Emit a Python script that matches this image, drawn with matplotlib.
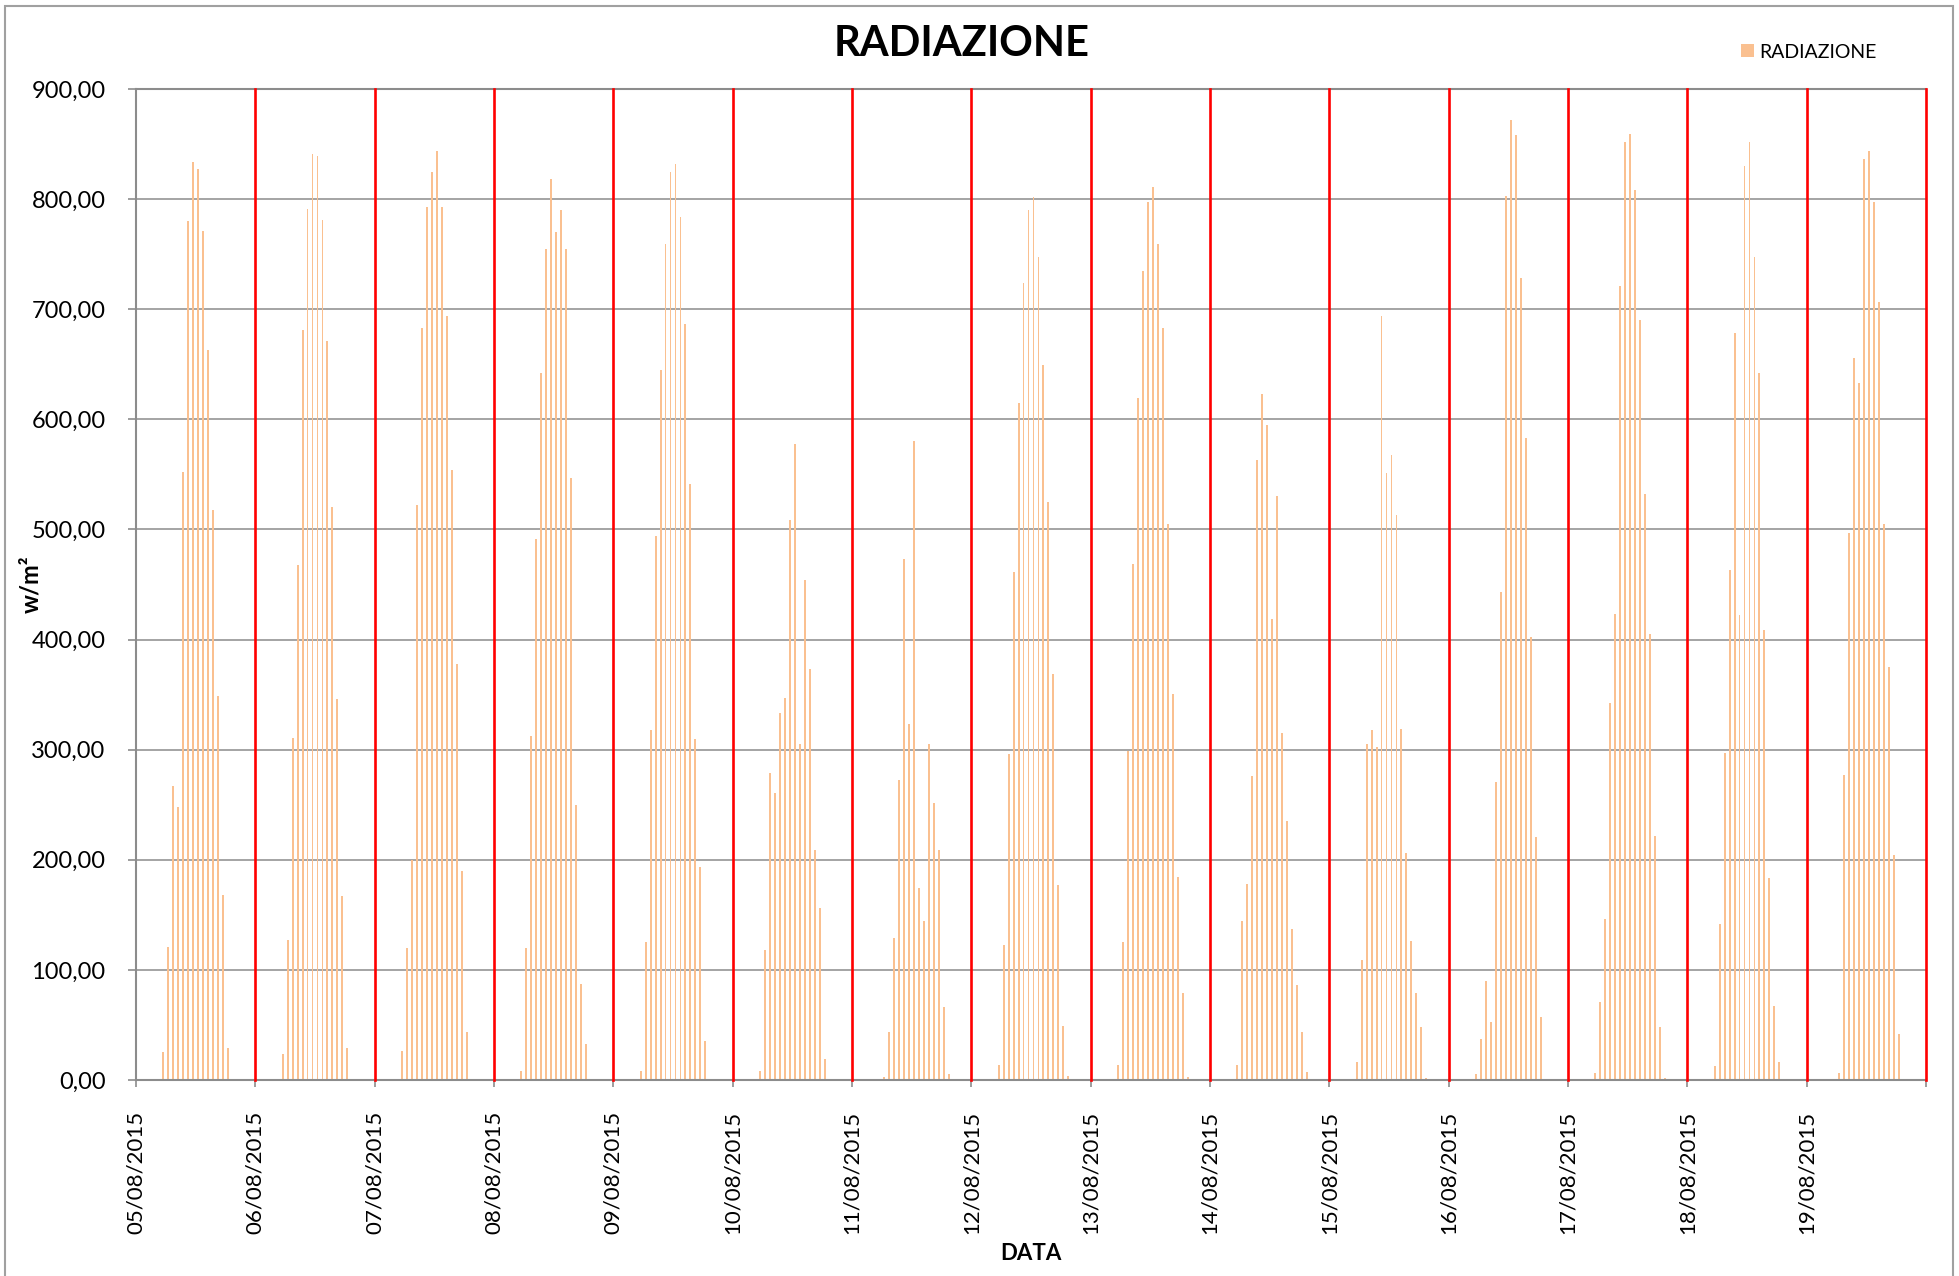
import matplotlib
matplotlib.use("Agg")
import matplotlib.pyplot as plt
import numpy as np
from matplotlib.patches import Rectangle

plt.rcParams['font.family'] = ['Lato', 'DejaVu Sans']

dates = ["05/08/2015", "06/08/2015", "07/08/2015", "08/08/2015", "09/08/2015",
         "10/08/2015", "11/08/2015", "12/08/2015", "13/08/2015", "14/08/2015",
         "15/08/2015", "16/08/2015", "17/08/2015", "18/08/2015", "19/08/2015"]

# hourly radiation (W/m2), hours 00..23 for each day
rad_05 = [0, 0, 0, 0, 0, 25, 121, 267, 248, 552, 780, 834, 827, 771, 663, 518, 349, 168, 29, 0, 0, 0, 0, 0]
rad_06 = [0, 0, 0, 0, 0, 24, 127, 311, 468, 681, 791, 841, 839, 781, 671, 520, 346, 167, 29, 0, 0, 0, 0, 0]
rad_07 = [0, 0, 0, 0, 0, 26, 120, 200, 522, 683, 793, 825, 844, 793, 694, 554, 378, 190, 44, 1, 0, 0, 0, 0]
rad_08 = [0, 0, 0, 0, 0, 8, 120, 312, 491, 642, 755, 818, 770, 790, 755, 547, 250, 87, 33, 0, 0, 0, 0, 0]
rad_09 = [0, 0, 0, 0, 0, 8, 125, 318, 494, 645, 759, 825, 832, 784, 687, 541, 310, 193, 35, 0, 0, 0, 0, 0]
rad_10 = [0, 0, 0, 0, 0, 8, 118, 279, 261, 333, 347, 509, 578, 305, 454, 373, 209, 156, 19, 0, 0, 0, 0, 0]
rad_11 = [0, 0, 0, 0, 0, 0, 3, 44, 129, 272, 473, 323, 580, 174, 144, 305, 252, 209, 66, 5, 0, 0, 0, 0]
rad_12 = [0, 0, 0, 0, 0, 14, 123, 296, 461, 615, 724, 790, 802, 747, 649, 525, 369, 177, 49, 4, 0, 0, 0, 0]
rad_13 = [0, 0, 0, 0, 0, 14, 125, 299, 469, 619, 735, 797, 811, 759, 683, 505, 351, 184, 79, 3, 0, 0, 0, 0]
rad_14 = [0, 0, 0, 0, 0, 14, 144, 178, 276, 563, 623, 595, 419, 530, 315, 235, 137, 86, 44, 7, 0, 0, 0, 0]
rad_15 = [0, 0, 0, 0, 0, 16, 109, 305, 318, 302, 694, 551, 568, 513, 319, 206, 126, 79, 48, 2, 0, 0, 0, 0]
rad_16 = [0, 0, 0, 0, 0, 5, 37, 90, 53, 271, 443, 803, 872, 858, 728, 583, 402, 221, 57, 0.5, 0, 0, 0, 0]
rad_17 = [0, 0, 0, 0, 0, 6, 71, 146, 342, 423, 721, 852, 859, 808, 690, 532, 405, 222, 48, 2, 0, 0, 0, 0]
rad_18 = [0, 0, 0, 0, 0, 13, 142, 297, 463, 678, 422, 830, 852, 747, 642, 409, 183, 67, 16, 0, 0, 0, 0, 0]
rad_19 = [0, 0, 0, 0, 0, 0, 6, 277, 497, 656, 633, 836, 844, 797, 707, 505, 375, 204, 42, 0, 0, 0, 0, 0]

values = np.concatenate([rad_05, rad_06, rad_07, rad_08, rad_09, rad_10, rad_11, rad_12,
                         rad_13, rad_14, rad_15, rad_16, rad_17, rad_18, rad_19])
n_days = len(dates)
hours_per_day = 24

W, H = 1959, 1276
fig = plt.figure(figsize=(W / 100, H / 100), dpi=100)
ax = fig.add_axes([136 / W, 1 - 1080 / H, (1926 - 136) / W, (1080 - 89) / H])

bar_color = '#FAC090'
x = np.arange(len(values)) + 0.5
ax.bar(x, values, width=0.38, color=bar_color, linewidth=0, label='RADIAZIONE', zorder=2)

ax.set_xlim(0, n_days * hours_per_day)
ax.set_ylim(0, 900)

grid_c = '#8C8C8C'
ax.set_yticks(np.arange(0, 901, 100))
ax.set_yticklabels([f"{v:.2f}".replace('.', ',') for v in np.arange(0, 901, 100)], fontsize=17)
ax.yaxis.grid(True, color=grid_c, linewidth=1.1, zorder=1)
ax.set_axisbelow(True)

day_ticks = np.arange(0, n_days * hours_per_day + 1, hours_per_day)
ax.set_xticks(day_ticks)
ax.set_xticklabels(dates + [""], rotation=90, fontsize=16)

for t in day_ticks[1:]:
    ax.axvline(t, color='#FF0000', linewidth=1.9, zorder=3, clip_on=False)

for side in ['left', 'bottom', 'top']:
    ax.spines[side].set_color(grid_c)
    ax.spines[side].set_linewidth(1.5)
ax.spines['right'].set_visible(False)

ax.tick_params(axis='y', length=6, width=1.2, color=grid_c, pad=16)
ax.tick_params(axis='x', length=5, width=1.2, color=grid_c, pad=17)

fig.text(962 / W, 1 - 44 / H, 'RADIAZIONE', fontsize=30, fontweight='bold', ha='center', va='center')
fig.text(1031 / W, 1 - 1253 / H, 'DATA', fontsize=16, fontweight='bold', ha='center', va='center')
fig.text(31 / W, 1 - 584 / H, 'w/m²', fontsize=17, fontweight='bold', ha='center', va='center', rotation=90)

ax.legend(loc='center left', bbox_to_anchor=(1741 / W, 1 - 52 / H), bbox_transform=fig.transFigure,
          frameon=False, fontsize=14, handlelength=0.65, handleheight=0.65, handletextpad=0.3,
          borderpad=0, borderaxespad=0)

fig.patches.append(Rectangle((5 / W, -0.01), (1953 - 5) / W, 1.01 - 6 / H, transform=fig.transFigure,
                             fill=False, edgecolor='#A0A0A0', linewidth=1.5))

fig.savefig('out.png', dpi=100)
